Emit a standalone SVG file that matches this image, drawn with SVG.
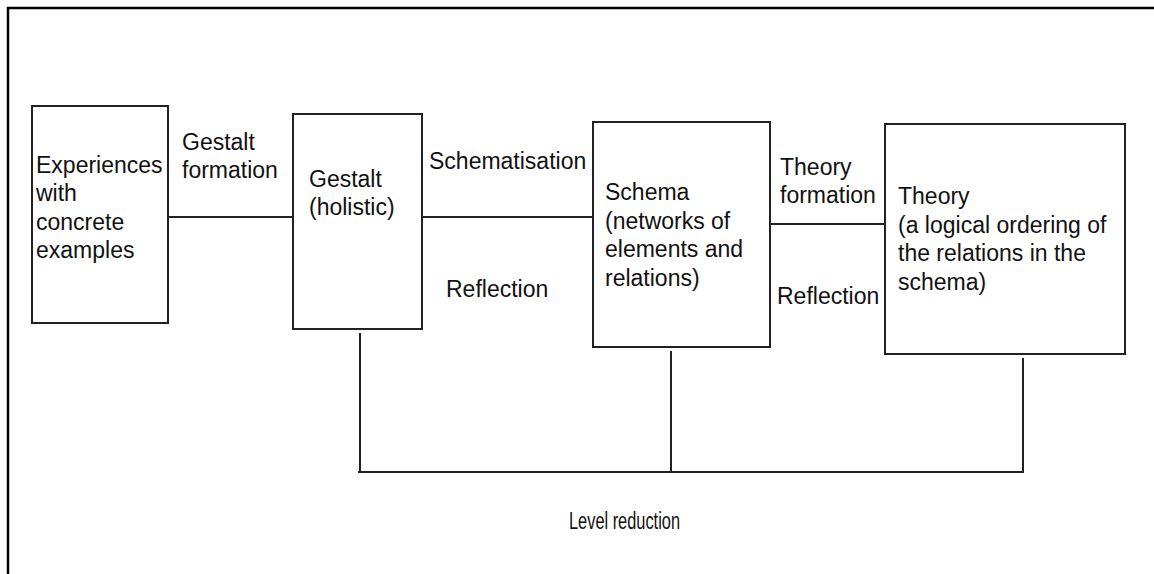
<svg xmlns="http://www.w3.org/2000/svg" width="1154" height="574" viewBox="0 0 1154 574">
  <style>
    .box { fill: #ffffff; stroke: #222222; stroke-width: 2; }
    .wire { fill: none; stroke: #222222; stroke-width: 2; }
    .frame { fill: none; stroke: #000000; stroke-width: 2.5; }
    text { font-family: "Liberation Sans", Arial, sans-serif; font-size: 23px; fill: #111111; }
  </style>
  <rect width="1154" height="574" fill="#ffffff"/>

  <!-- page border: top and left edges only -->
  <path class="frame" d="M8,574 V8 H1154"/>

  <!-- connectors -->
  <g id="connectors">
    <line class="wire" x1="168" y1="217" x2="293" y2="217"/>
    <line class="wire" x1="422" y1="217" x2="593" y2="217"/>
    <line class="wire" x1="770" y1="224" x2="885" y2="224"/>
    <line class="wire" x1="360" y1="333" x2="360" y2="472"/>
    <line class="wire" x1="671" y1="351" x2="671" y2="472"/>
    <line class="wire" x1="1023" y1="358" x2="1023" y2="472"/>
    <line class="wire" x1="358" y1="472" x2="1024" y2="472"/>
  </g>

  <!-- connector labels -->
  <g id="labels">
    <text x="182" y="150">Gestalt</text>
    <text x="182" y="178">formation</text>
    <text x="429" y="169">Schematisation</text>
    <text x="446" y="297">Reflection</text>
    <text x="780" y="175">Theory</text>
    <text x="780" y="203">formation</text>
    <text x="777" y="304">Reflection</text>
    <text x="569" y="529" textLength="111" lengthAdjust="spacingAndGlyphs">Level reduction</text>
  </g>

  <g id="experiences">
    <rect class="box" x="32" y="106" width="136" height="217"/>
    <text x="36" y="172.5">Experiences</text>
    <text x="36" y="201">with</text>
    <text x="36" y="229.5">concrete</text>
    <text x="36" y="258">examples</text>
  </g>

  <g id="gestalt">
    <rect class="box" x="293" y="114" width="129" height="215"/>
    <text x="309" y="187">Gestalt</text>
    <text x="309" y="215">(holistic)</text>
  </g>

  <g id="schema">
    <rect class="box" x="593" y="122" width="177" height="225"/>
    <text x="605" y="200">Schema</text>
    <text x="605" y="228.5">(networks of</text>
    <text x="605" y="257">elements and</text>
    <text x="605" y="285.5">relations)</text>
  </g>

  <g id="theory">
    <rect class="box" x="885" y="124" width="240" height="230"/>
    <text x="898" y="204">Theory</text>
    <text x="898" y="232.5">(a logical ordering of</text>
    <text x="898" y="261">the relations in the</text>
    <text x="898" y="289.5">schema)</text>
  </g>
</svg>
